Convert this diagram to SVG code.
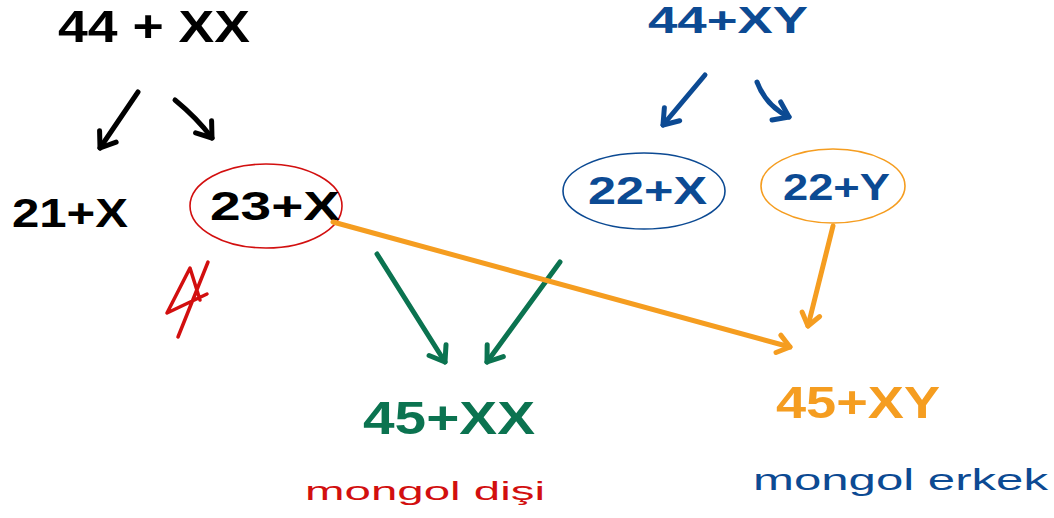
<svg xmlns="http://www.w3.org/2000/svg" width="1054" height="518" viewBox="0 0 1054 518">
<style>
.t{font-family:"Liberation Sans","DejaVu Sans",sans-serif;font-weight:bold;}
.hw{font-family:"Liberation Sans","DejaVu Sans",sans-serif;}
.k{fill:#000}.b{fill:#0c4a93}.g{fill:#0b7350}.o{fill:#f59d20}.r{fill:#d20f0f}
.ln{fill:none;stroke-width:5;stroke-linecap:round;stroke-linejoin:round}
</style>
<defs>
<marker id="hk" markerUnits="userSpaceOnUse" viewBox="-20 -14 24 28" markerWidth="24" markerHeight="28" refX="0" refY="0" orient="auto"><path d="M-14,-10 L0,0 L-14,10" fill="none" stroke="#000" stroke-width="5" stroke-linecap="round" stroke-linejoin="round"/></marker>
<marker id="hb" markerUnits="userSpaceOnUse" viewBox="-20 -14 24 28" markerWidth="24" markerHeight="28" refX="0" refY="0" orient="auto"><path d="M-14,-10 L0,0 L-14,10" fill="none" stroke="#0c4a93" stroke-width="5" stroke-linecap="round" stroke-linejoin="round"/></marker>
<marker id="hg" markerUnits="userSpaceOnUse" viewBox="-20 -14 24 28" markerWidth="24" markerHeight="28" refX="0" refY="0" orient="auto"><path d="M-14,-10 L0,0 L-14,10" fill="none" stroke="#0b7350" stroke-width="5" stroke-linecap="round" stroke-linejoin="round"/></marker>
<marker id="ho" markerUnits="userSpaceOnUse" viewBox="-20 -14 24 28" markerWidth="24" markerHeight="28" refX="0" refY="0" orient="auto"><path d="M-12,-9 L0,0 L-12,9" fill="none" stroke="#f59d20" stroke-width="5" stroke-linecap="round" stroke-linejoin="round"/></marker>
</defs>
<rect width="1054" height="518" fill="#fff"/>

<g id="mother">
<text class="t k" x="58" y="42" font-size="44" textLength="192" lengthAdjust="spacingAndGlyphs">44 + XX</text>
</g>
<g id="egg-21">
<text class="t k" x="12" y="227" font-size="40" textLength="116" lengthAdjust="spacingAndGlyphs">21+X</text>
</g>
<g id="egg-23">
<ellipse cx="266" cy="206" rx="76" ry="42" fill="none" stroke="#d20f0f" stroke-width="1.6"/>
<text class="t k" x="210" y="220" font-size="40" textLength="130" lengthAdjust="spacingAndGlyphs">23+X</text>
</g>
<g id="star">
<path d="M178 337 L208 262 M167 313 L190 268 L200 300 M167 313 L207 294" fill="none" stroke="#d20f0f" stroke-width="3.5" stroke-linecap="round" stroke-linejoin="round"/>
</g>
<g id="father">
<text class="t b" x="648" y="33" font-size="36" textLength="160" lengthAdjust="spacingAndGlyphs">44+XY</text>
</g>
<g id="sperm-x">
<ellipse cx="644" cy="191" rx="81" ry="38" fill="none" stroke="#0c4a93" stroke-width="1.6"/>
<text class="t b" x="588" y="204" font-size="38" textLength="119" lengthAdjust="spacingAndGlyphs">22+X</text>
</g>
<g id="sperm-y">
<ellipse cx="833" cy="186" rx="72" ry="37" fill="none" stroke="#f59d20" stroke-width="1.6"/>
<text class="t b" x="783" y="200" font-size="36" textLength="107" lengthAdjust="spacingAndGlyphs">22+Y</text>
</g>
<g id="child-female">
<text class="t g" x="363" y="434" font-size="46" textLength="172" lengthAdjust="spacingAndGlyphs">45+XX</text>
<text class="hw r" x="305" y="500" font-size="26" textLength="240" lengthAdjust="spacingAndGlyphs">mongol dişi</text>
</g>
<g id="child-male">
<text class="t o" x="776" y="418" font-size="44" textLength="164" lengthAdjust="spacingAndGlyphs">45+XY</text>
<text class="hw b" x="753" y="490" font-size="30" textLength="295" lengthAdjust="spacingAndGlyphs">mongol erkek</text>
</g>

<g id="connectors">
<path class="ln" stroke="#000" d="M138 92 L100 148" marker-end="url(#hk)"/>
<path class="ln" stroke="#000" d="M175 100 Q197 118 212 138" marker-end="url(#hk)"/>
<path class="ln" stroke="#0c4a93" d="M705 75 L663 125" marker-end="url(#hb)"/>
<path class="ln" stroke="#0c4a93" d="M757 82 Q766 106 789 117" marker-end="url(#hb)"/>
<path class="ln" stroke="#0b7350" d="M377 254 L445 362" marker-end="url(#hg)"/>
<path class="ln" stroke="#0b7350" d="M560 262 L487 362" marker-end="url(#hg)"/>
<path class="ln" stroke="#f59d20" d="M333 222 L790 347" marker-end="url(#ho)"/>
<path class="ln" stroke="#f59d20" d="M833 226 L808 326" marker-end="url(#ho)"/>
</g>
</svg>
